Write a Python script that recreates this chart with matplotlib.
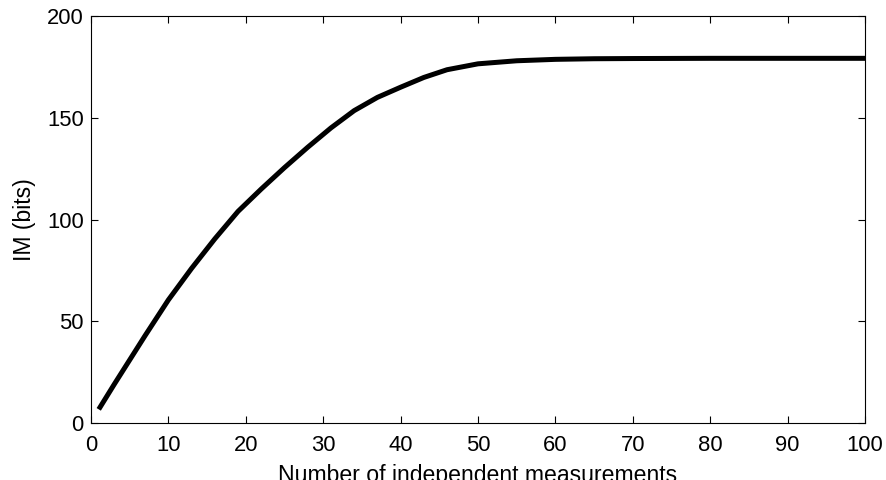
import matplotlib.pyplot as plt
import numpy as np

# Werte
n_measurements = [1, 3, 5, 7, 10, 13, 16, 19, 22, 25, 28, 31, 34, 37, 40,
                  43, 46, 50, 55, 60, 65, 70, 80, 90, 100]
im_bits = [6.7, 19.0, 31.0, 43.0, 60.5, 76.0, 90.5, 104.0, 115.0, 125.5,
           135.5, 145.0, 153.5, 160.0, 165.0, 169.8, 173.6, 176.5, 178.0,
           178.7, 179.0, 179.1, 179.2, 179.2, 179.2]

x_ticks = [0, 10, 20, 30, 40, 50, 60, 70, 80, 90, 100]
y_ticks = [0, 50, 100, 150, 200]

plt.rcParams['font.family'] = ['Liberation Sans', 'DejaVu Sans']

fig = plt.figure(figsize=(8.87, 4.80), dpi=100)
ax = fig.add_axes([91 / 887, 57 / 480, 774 / 887, 407 / 480])

ax.plot(n_measurements, im_bits, color='black', linewidth=3.6,
        solid_joinstyle='round', solid_capstyle='butt')

ax.set_xlim(0, 100)
ax.set_ylim(0, 200)
ax.set_xticks(x_ticks)
ax.set_yticks(y_ticks)

ax.tick_params(axis='both', direction='in', length=5, width=0.8,
               top=True, right=True, labelsize=15.8, colors='black')
ax.tick_params(axis='x', pad=8.6)
ax.tick_params(axis='y', pad=5.3)
for sp in ax.spines.values():
    sp.set_linewidth(0.8)

# Beschriftung unten sitzt im Original dicht am Bildrand
ax.set_xlabel("Number of independent measurements", fontsize=16.6, labelpad=5.5)
ax.set_ylabel("IM (bits)", fontsize=16.6, labelpad=7.5)

plt.savefig("out.png", dpi=100)
